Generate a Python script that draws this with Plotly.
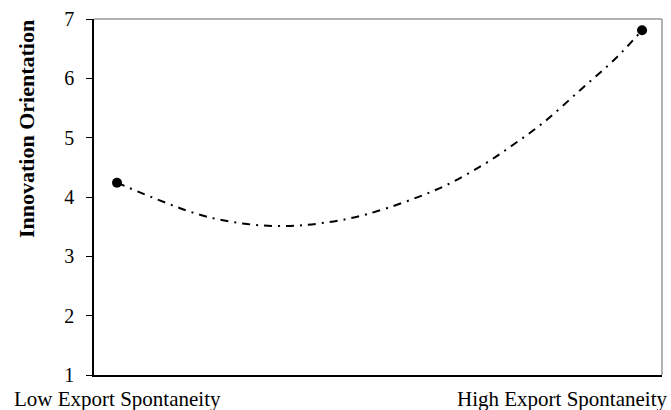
import plotly.graph_objects as go

# Values
curve_x = [-1.0, -0.684, -0.505, -0.36, -0.219, -0.048, 0.23, 0.394, 0.509, 0.623, 0.764, 0.905, 1.0]
curve_y = [4.24, 3.70, 3.545, 3.51, 3.56, 3.71, 4.15, 4.54, 4.88, 5.25, 5.80, 6.36, 6.81]
point_x = [-1.0, 1.0]
point_y = [4.24, 6.81]
x_labels = ["Low Export Spontaneity", "High Export Spontaneity"]
y_ticks = [1, 2, 3, 4, 5, 6, 7]
y_title = "Innovation Orientation"

FONT = "Liberation Serif, Times New Roman, serif"

fig = go.Figure()
fig.add_trace(go.Scatter(
    x=curve_x, y=curve_y, mode="lines",
    line=dict(color="black", width=2, dash="8px,6px,2px,6px", shape="spline", smoothing=1.0),
    hoverinfo="skip", showlegend=False))
fig.add_trace(go.Scatter(
    x=point_x, y=point_y, mode="markers",
    marker=dict(color="black", size=10),
    showlegend=False))

W, H = 671, 410
L, R, T, B = 94, 9, 19, 35
pw = W - L - R
ph = H - T - B

def px2paper_x(px):
    return (px - L) / pw

def px2paper_y(py):
    return (H - B - py) / ph

fig.update_layout(
    width=W, height=H,
    margin=dict(l=L, r=R, t=T, b=B, autoexpand=False),
    paper_bgcolor="white", plot_bgcolor="white",
    font=dict(family=FONT, size=20, color="black"),
    xaxis=dict(range=[-1.0876, 1.076], showgrid=False, zeroline=False,
               showticklabels=False, ticks="", showline=True,
               linecolor="black", linewidth=1.5),
    yaxis=dict(range=[1, 7], tickvals=y_ticks, showgrid=False, zeroline=False,
               ticks="outside", ticklen=6, tickcolor="black", tickwidth=1,
               showline=True, linecolor="black", linewidth=1.5,
               ticklabelstandoff=8,
               tickfont=dict(family=FONT, size=20, color="black")),
    shapes=[
        dict(type="line", xref="paper", yref="paper", x0=0, x1=1, y0=1, y1=1,
             line=dict(color="#999999", width=1.5), layer="below"),
        dict(type="line", xref="paper", yref="paper", x0=1, x1=1, y0=0, y1=1,
             line=dict(color="#999999", width=1.5), layer="below"),
    ],
    annotations=[
        dict(text=x_labels[0], xref="paper", yref="paper",
             x=px2paper_x(117), y=px2paper_y(399), xanchor="center", yanchor="middle",
             showarrow=False, font=dict(family=FONT, size=21, color="black")),
        dict(text=x_labels[1], xref="paper", yref="paper",
             x=px2paper_x(669), y=px2paper_y(399), xanchor="right", yanchor="middle",
             showarrow=False, font=dict(family=FONT, size=21, color="black")),
        dict(text="<b>" + y_title + "</b>", xref="paper", yref="paper",
             x=px2paper_x(26), y=px2paper_y(129), xanchor="center", yanchor="middle",
             textangle=-90, showarrow=False,
             font=dict(family=FONT, size=22, color="black")),
    ],
)

fig.write_html(
    "out.html",
    config={"displayModeBar": False},
    post_script="document.body.style.margin='0';document.body.style.padding='0';document.body.style.overflow='hidden';",
)
